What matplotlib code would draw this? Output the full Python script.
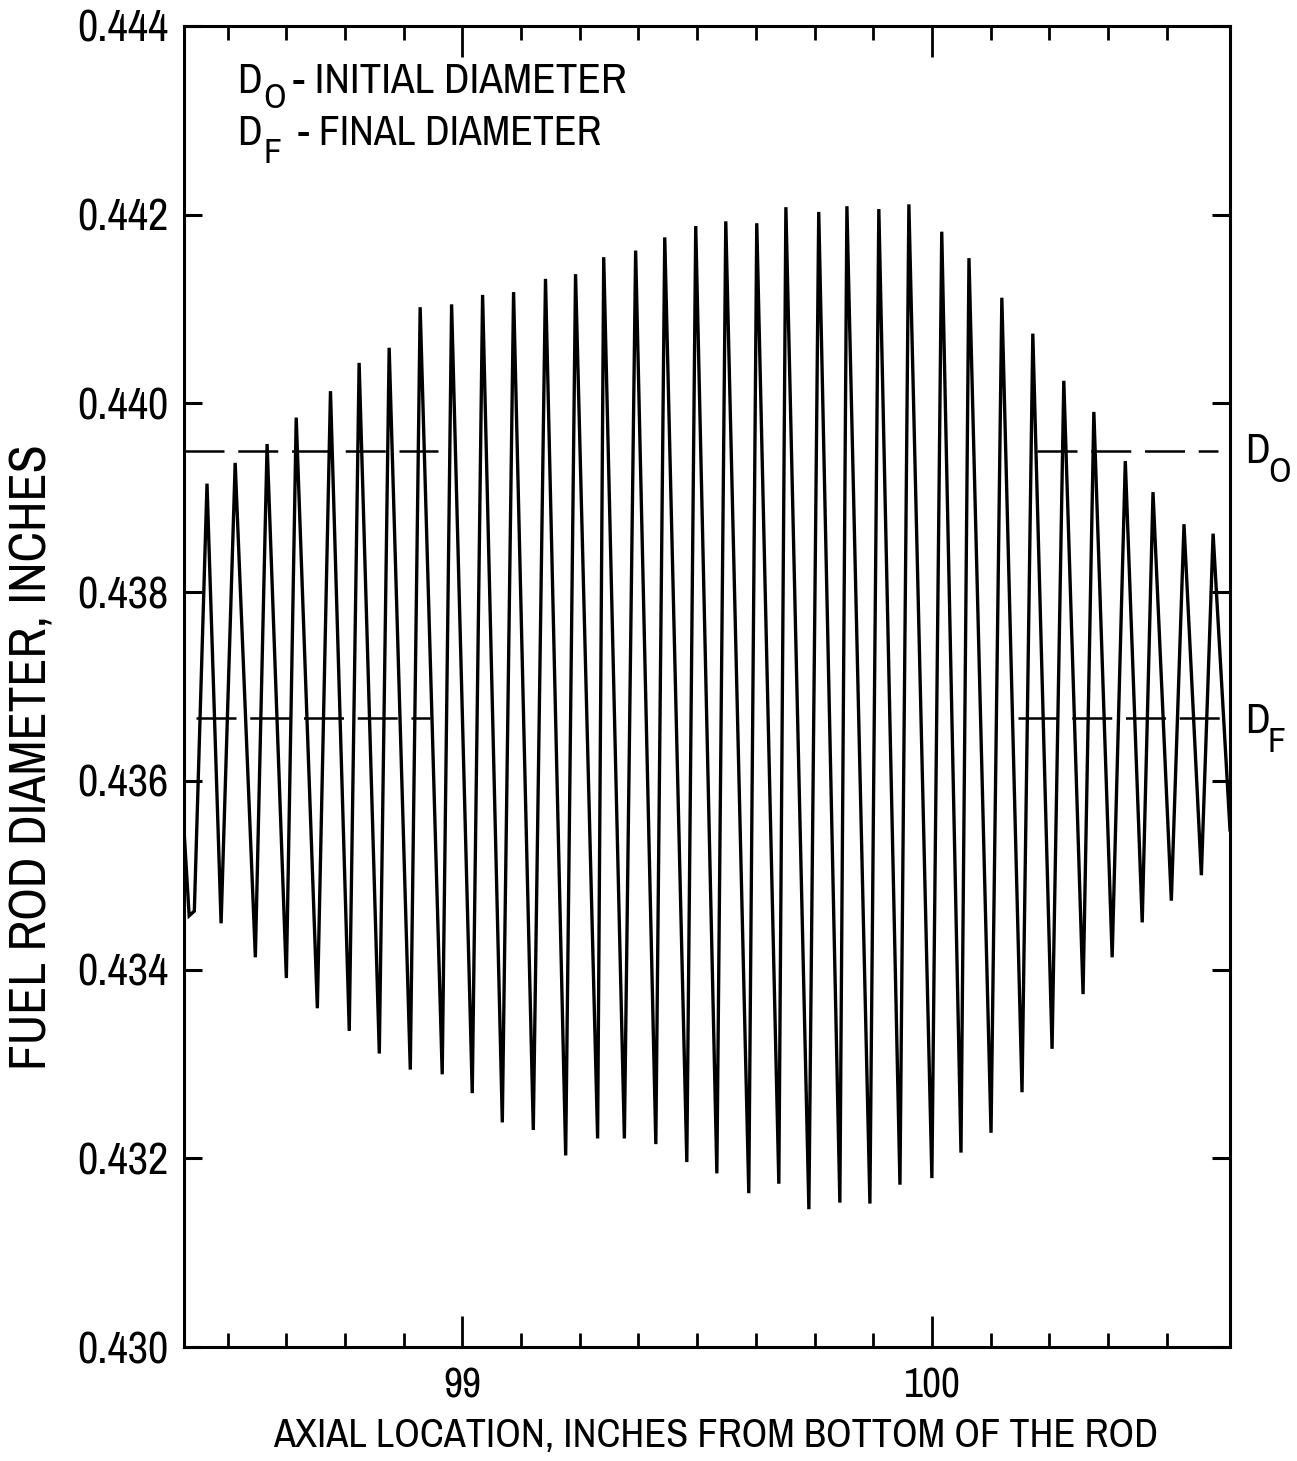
import os
import matplotlib
matplotlib.use('Agg')
import matplotlib.pyplot as plt
from matplotlib import font_manager

# axial location (inches) and diameter (inches) at each peak / valley of the trace
axial = [98.407, 98.418, 98.429,
         98.456, 98.486, 98.516, 98.559, 98.584, 98.625, 98.646, 98.691,
         98.719, 98.759, 98.780, 98.823, 98.844, 98.889, 98.910, 98.957,
         98.977, 99.021, 99.043, 99.085, 99.109, 99.151, 99.177, 99.220,
         99.241, 99.288, 99.301, 99.345, 99.369, 99.412, 99.431, 99.478,
         99.497, 99.542, 99.561, 99.610, 99.627, 99.674, 99.689, 99.738,
         99.759, 99.804, 99.819, 99.868, 99.887, 99.932, 99.951, 100.000,
         100.021, 100.062, 100.079, 100.126, 100.149, 100.192, 100.215, 100.256,
         100.281, 100.322, 100.345, 100.384, 100.412, 100.448, 100.471, 100.510,
         100.537, 100.574, 100.599, 100.635]
diameter = [0.43548, 0.43457, 0.43462,
            0.43915, 0.43449, 0.43937, 0.43413, 0.43957, 0.43391, 0.43985, 0.43359,
            0.44013, 0.43335, 0.44043, 0.43311, 0.44059, 0.43294, 0.44102, 0.43289,
            0.44105, 0.43269, 0.44115, 0.43238, 0.44118, 0.43230, 0.44132, 0.43203,
            0.44137, 0.43221, 0.44155, 0.43221, 0.44162, 0.43215, 0.44176, 0.43196,
            0.44188, 0.43184, 0.44193, 0.43163, 0.44191, 0.43173, 0.44208, 0.43146,
            0.44203, 0.43153, 0.44209, 0.43152, 0.44206, 0.43172, 0.44211, 0.43179,
            0.44182, 0.43206, 0.44154, 0.43227, 0.44112, 0.43270, 0.44074, 0.43316,
            0.44024, 0.43374, 0.43991, 0.43413, 0.43939, 0.43450, 0.43906, 0.43473,
            0.43872, 0.43500, 0.43862, 0.43548]

d_initial = 0.4395
d_final = 0.43667
d_initial_spans = [(98.407, 98.947), (100.224, 100.610)]
d_final_spans = [(98.433, 98.930), (100.183, 100.620)]

x_major = [99, 100]
x_major_labels = ['99', '100']
x_minor = [98.5, 98.625, 98.75, 98.875, 99.125, 99.25, 99.375, 99.5,
           99.625, 99.75, 99.875, 100.125, 100.25, 100.375, 100.5]
y_ticks = [0.430, 0.432, 0.434, 0.436, 0.438, 0.440, 0.442, 0.444]
y_tick_labels = ['0.430', '0.432', '0.434', '0.436', '0.438', '0.440', '0.442', '0.444']


# look for a narrow / condensed regular face among the installed fonts
def find_narrow():
    skip = ('bold', 'italic', 'oblique', 'light', 'thin', 'black', 'medium',
            'semibold', 'extrabold', 'heavy', 'mono', 'serif', 'display')
    ranked = []
    for f in font_manager.fontManager.ttflist:
        base = os.path.basename(f.fname).lower()
        if any(k in base for k in skip):
            continue
        if 'narrow' in base:
            ranked.append((0, f.fname))
        elif 'condensed' in base and 'semi' not in base and 'extra' not in base \
                and 'ultra' not in base:
            ranked.append((1, f.fname))
        elif 'semicondensed' in base:
            ranked.append((2, f.fname))
    if ranked:
        ranked.sort()
        return ranked[0][1]
    return None


path = find_narrow()
if path:
    base_fp = font_manager.FontProperties(fname=path)
    k = 1.0
else:
    base_fp = font_manager.FontProperties(family='DejaVu Sans')
    k = 0.8


def fp(size):
    p = base_fp.copy()
    p.set_size(size * k)
    return p


W, H = 1297, 1461
fig = plt.figure(figsize=(W / 100, H / 100), dpi=100)
ax = fig.add_axes([184 / W, 1 - 1347 / H, (1230 - 184) / W, (1347 - 26) / H])

ax.plot(axial, diameter, color='black', lw=2.4, solid_joinstyle='miter')
for x0, x1 in d_initial_spans:
    ax.plot([x0, x1], [d_initial, d_initial], color='black', lw=1.8, ls=(0, (16, 5.5)))
for x0, x1 in d_final_spans:
    ax.plot([x0, x1], [d_final, d_final], color='black', lw=1.8, ls=(0, (16, 5.5)))

ax.set_xlim(98.407, 100.635)
ax.set_ylim(0.430, 0.444)
ax.set_xticks(x_major)
ax.set_xticklabels(x_major_labels)
ax.set_xticks(x_minor, minor=True)
ax.set_yticks(y_ticks)
ax.set_yticklabels(y_tick_labels)

for s in ax.spines.values():
    s.set_linewidth(2.2)
ax.tick_params(axis='x', which='major', direction='in', length=22, width=2,
               top=True, bottom=True, pad=14)
ax.tick_params(axis='x', which='minor', direction='in', length=10, width=2,
               top=True, bottom=True)
ax.tick_params(axis='y', which='major', direction='in', length=13, width=2.2,
               left=True, right=True, pad=11)
for lbl in ax.get_xticklabels():
    lbl.set_fontproperties(fp(30))
for lbl in ax.get_yticklabels():
    lbl.set_fontproperties(fp(32))

fig.text(32 / W, 1 - 757 / H, 'FUEL ROD DIAMETER, INCHES', rotation=90,
         ha='center', va='center', fontproperties=fp(37))
fig.text(716 / W, 1 - 1435 / H, 'AXIAL LOCATION, INCHES FROM BOTTOM OF THE ROD',
         ha='center', va='center', fontproperties=fp(29))

# legend text in the upper left
fs = 30
fig.text(237 / W, 1 - 93 / H, 'D', fontproperties=fp(fs), va='baseline')
fig.text(263 / W, 1 - 108 / H, 'O', fontproperties=fp(fs * 0.85), va='baseline')
fig.text(293 / W, 1 - 93 / H, '- INITIAL DIAMETER', fontproperties=fp(fs + 1), va='baseline')
fig.text(237 / W, 1 - 145 / H, 'D', fontproperties=fp(fs), va='baseline')
fig.text(263 / W, 1 - 163 / H, 'F', fontproperties=fp(fs * 0.85), va='baseline')
fig.text(298 / W, 1 - 145 / H, '- FINAL DIAMETER', fontproperties=fp(fs), va='baseline')

# labels for the dashed reference lines
fig.text(1245 / W, 1 - 463 / H, 'D', fontproperties=fp(fs), va='baseline')
fig.text(1268 / W, 1 - 482 / H, 'O', fontproperties=fp(fs * 0.85), va='baseline')
fig.text(1245 / W, 1 - 733 / H, 'D', fontproperties=fp(fs), va='baseline')
fig.text(1268 / W, 1 - 752 / H, 'F', fontproperties=fp(fs * 0.85), va='baseline')

fig.savefig('out.png', dpi=100)
